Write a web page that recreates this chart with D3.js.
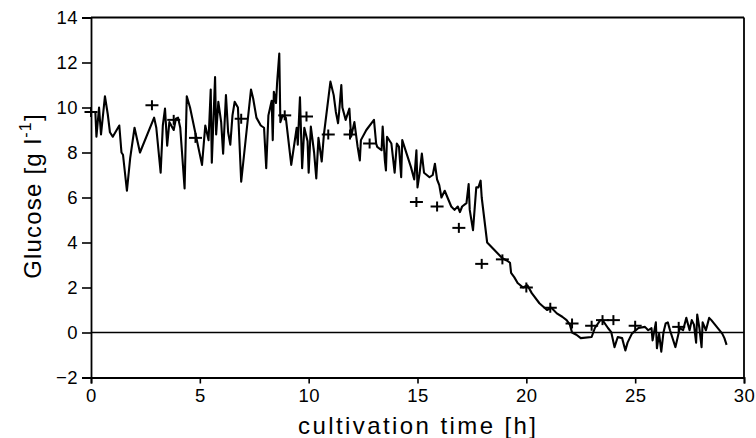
<!DOCTYPE html>
<html>
<head>
<meta charset="utf-8">
<script src="https://cdn.jsdelivr.net/npm/d3@7"></script>
<style>
  html, body { margin: 0; padding: 0; background: #fff; }
  svg { display: block; }
  text { font-family: "Liberation Sans", Arial, Helvetica, sans-serif; fill: #000; }
</style>
</head>
<body>
<svg id="chart" width="756" height="438"></svg>
<script>
// Online glucose signal: cultivation time [h]
const timeH = [0,0.2,0.25,0.37,0.46,0.64,0.77,0.87,1.0,1.3,1.4,1.47,1.65,1.8,2.0,2.25,2.9,3.0,3.2,3.3,3.4,3.5,3.6,3.8,3.9,4.0,4.1,4.3,4.4,4.55,5.1,5.25,5.4,5.5,5.55,5.7,5.75,5.85,5.98,6.07,6.2,6.3,6.4,6.5,6.6,6.75,6.9,7.35,7.45,7.6,7.8,7.95,8.05,8.15,8.3,8.35,8.4,8.5,8.55,8.65,8.7,8.8,8.95,9.2,9.45,9.5,9.6,9.7,9.8,9.95,10.0,10.1,10.25,10.35,10.45,10.6,10.7,11.0,11.15,11.25,11.35,11.4,11.5,11.55,11.7,11.87,11.95,12.1,12.25,12.35,12.4,12.65,13.0,13.1,13.15,13.35,13.4,13.5,13.55,13.6,13.8,13.95,14.05,14.15,14.25,14.3,14.5,14.7,14.85,14.95,15.0,15.1,15.2,15.3,15.55,15.7,15.8,15.9,16.0,16.1,16.25,16.55,16.7,16.85,16.95,17.05,17.25,17.35,17.4,17.55,17.7,17.8,17.9,17.95,18.2,18.9,19.1,19.25,19.3,19.45,19.6,19.85,20.05,20.25,20.6,20.95,21.15,21.4,21.65,21.85,22.0,22.1,22.3,22.5,23.0,23.15,23.4,23.5,23.75,23.9,24.05,24.2,24.4,24.55,24.65,24.85,25.15,25.45,25.6,25.75,25.8,25.95,26.0,26.1,26.2,26.3,26.4,26.5,26.6,26.85,27.05,27.2,27.35,27.5,27.6,27.7,27.8,27.85,27.95,28.05,28.1,28.25,28.4,28.5,28.75,29.0,29.1,29.2];
// Online glucose signal: glucose [g/l]
const glucose = [9.8,9.8,8.7,10.0,8.8,10.5,9.7,8.9,8.7,9.2,8.0,7.9,6.3,7.75,9.1,8.0,9.55,9.1,7.1,9.2,9.95,8.3,9.35,9.0,9.5,9.55,9.1,6.4,10.5,10.0,7.45,9.2,8.55,10.8,7.55,11.35,8.8,10.25,9.35,7.95,10.55,8.9,8.35,9.65,10.25,10.0,6.7,10.8,10.4,9.55,9.2,9.1,7.3,9.65,10.3,8.55,10.7,10.2,11.1,12.4,9.35,9.65,9.55,7.45,9.1,8.35,10.45,7.3,9.1,8.5,7.1,9.15,8.0,6.85,8.65,7.6,8.8,11.15,10.55,9.8,9.3,9.8,11.0,10.0,9.45,9.95,8.7,9.35,8.25,7.65,8.55,9.0,9.45,8.4,8.25,8.1,9.15,7.65,7.2,8.7,8.4,7.1,8.4,8.25,6.9,8.55,7.95,7.35,6.8,8.1,6.45,7.1,7.95,7.1,6.9,7.0,7.5,6.8,6.55,6.0,6.3,5.6,5.45,5.6,5.35,5.6,5.75,6.6,5.45,4.55,6.45,6.45,6.75,6.0,4.0,3.3,3.2,3.1,2.65,2.45,2.2,2.0,2.1,1.75,1.3,1.0,1.1,0.85,0.7,0.55,0.35,0.0,-0.1,-0.25,-0.2,0.2,0.55,0.55,0.2,0.02,-0.65,-0.2,-0.25,-0.8,-0.45,-0.05,0.2,0.25,0.1,0.2,-0.35,0.45,-0.7,-0.05,-0.85,0.0,0.4,0.45,0.1,-0.65,0.2,0.1,0.65,0.1,0.55,0.35,-0.45,0.8,0.2,-0.65,0.45,0.1,0.65,0.55,0.25,-0.05,-0.25,-0.55];
// Offline reference samples (+ markers)
const offTime = [0,2.8,3.8,4.8,6.9,8.9,9.9,10.9,11.9,12.8,14.95,15.9,16.9,17.95,18.9,20.0,21.1,22.1,23.0,23.5,24.0,25.0,27.0];
const offGlucose = [9.8,10.1,9.45,8.65,9.5,9.65,9.6,8.8,8.8,8.4,5.8,5.6,4.65,3.05,3.25,2.0,1.1,0.4,0.3,0.55,0.55,0.3,0.25];
// Axis ticks
const xTicks = [0,5,10,15,20,25,30];
const yTicks = [-2,0,2,4,6,8,10,12,14];

const svg = d3.select("#chart");
const pLeft = 91, pRight = 744, pTop = 17.5, pBottom = 377.5;
const x = d3.scaleLinear().domain([0,30]).range([pLeft,pRight]);
const y = d3.scaleLinear().domain([-2,14]).range([pBottom,pTop]);

// zero line
svg.append("line")
  .attr("x1", x(0)).attr("x2", x(30))
  .attr("y1", y(0)).attr("y2", y(0))
  .attr("stroke","#000").attr("stroke-width",1.6);

// online line
const line = d3.line().x((d,i)=>x(timeH[i])).y((d,i)=>y(glucose[i]));
svg.append("path")
  .datum(glucose)
  .attr("d", line)
  .attr("fill","none")
  .attr("stroke","#000")
  .attr("stroke-width",2.1)
  .attr("stroke-linejoin","round");

// offline crosses
const cs = 6.5;
const crosses = svg.append("g");
offTime.forEach((t,i)=>{
  const cx = x(t), cy = y(offGlucose[i]);
  crosses.append("line").attr("x1",cx-cs).attr("x2",cx+cs).attr("y1",cy).attr("y2",cy)
    .attr("stroke","#000").attr("stroke-width",2);
  crosses.append("line").attr("x1",cx).attr("x2",cx).attr("y1",cy-5).attr("y2",cy+5)
    .attr("stroke","#000").attr("stroke-width",2);
});

// frame: top and right
svg.append("line").attr("x1",pLeft).attr("x2",pRight).attr("y1",pTop).attr("y2",pTop)
  .attr("stroke","#000").attr("stroke-width",1.8);
svg.append("line").attr("x1",pRight).attr("x2",pRight).attr("y1",pTop).attr("y2",pBottom)
  .attr("stroke","#000").attr("stroke-width",1.8);

const fmt = d => d < 0 ? "\u2212" + Math.abs(d) : String(d);

// y axis
const yAxis = svg.append("g").attr("transform",`translate(${pLeft},0)`)
  .call(d3.axisLeft(y).tickValues(yTicks).tickSize(9).tickPadding(4).tickFormat(fmt));
// x axis
const xAxis = svg.append("g").attr("transform",`translate(0,${pBottom})`)
  .call(d3.axisBottom(x).tickValues(xTicks).tickSize(6).tickPadding(5).tickFormat(fmt));

[yAxis, xAxis].forEach(g=>{
  g.select(".domain").attr("stroke","#000").attr("stroke-width",1.8);
  g.selectAll(".tick line").attr("stroke","#000").attr("stroke-width",1.6);
  g.selectAll(".tick text").style("font-size","18.5px").style("letter-spacing","0.5px")
    .style("font-family","'Liberation Sans', Arial, sans-serif").attr("fill","#000");
});

// axis titles
svg.append("text")
  .attr("x", 417).attr("y", 434)
  .attr("text-anchor","middle")
  .attr("textLength", 238).attr("lengthAdjust","spacing")
  .style("font-size","24px")
  .text("cultivation time [h]");

const yt = svg.append("text")
  .attr("transform","translate(41,196) rotate(-90)")
  .attr("text-anchor","middle")
  .style("font-size","24px").style("letter-spacing","1.2px");
yt.append("tspan").text("Glucose [g l");
yt.append("tspan").attr("dy",-10).style("font-size","16px").text("-1");
yt.append("tspan").attr("dy",10).text("]");
</script>
</body>
</html>
